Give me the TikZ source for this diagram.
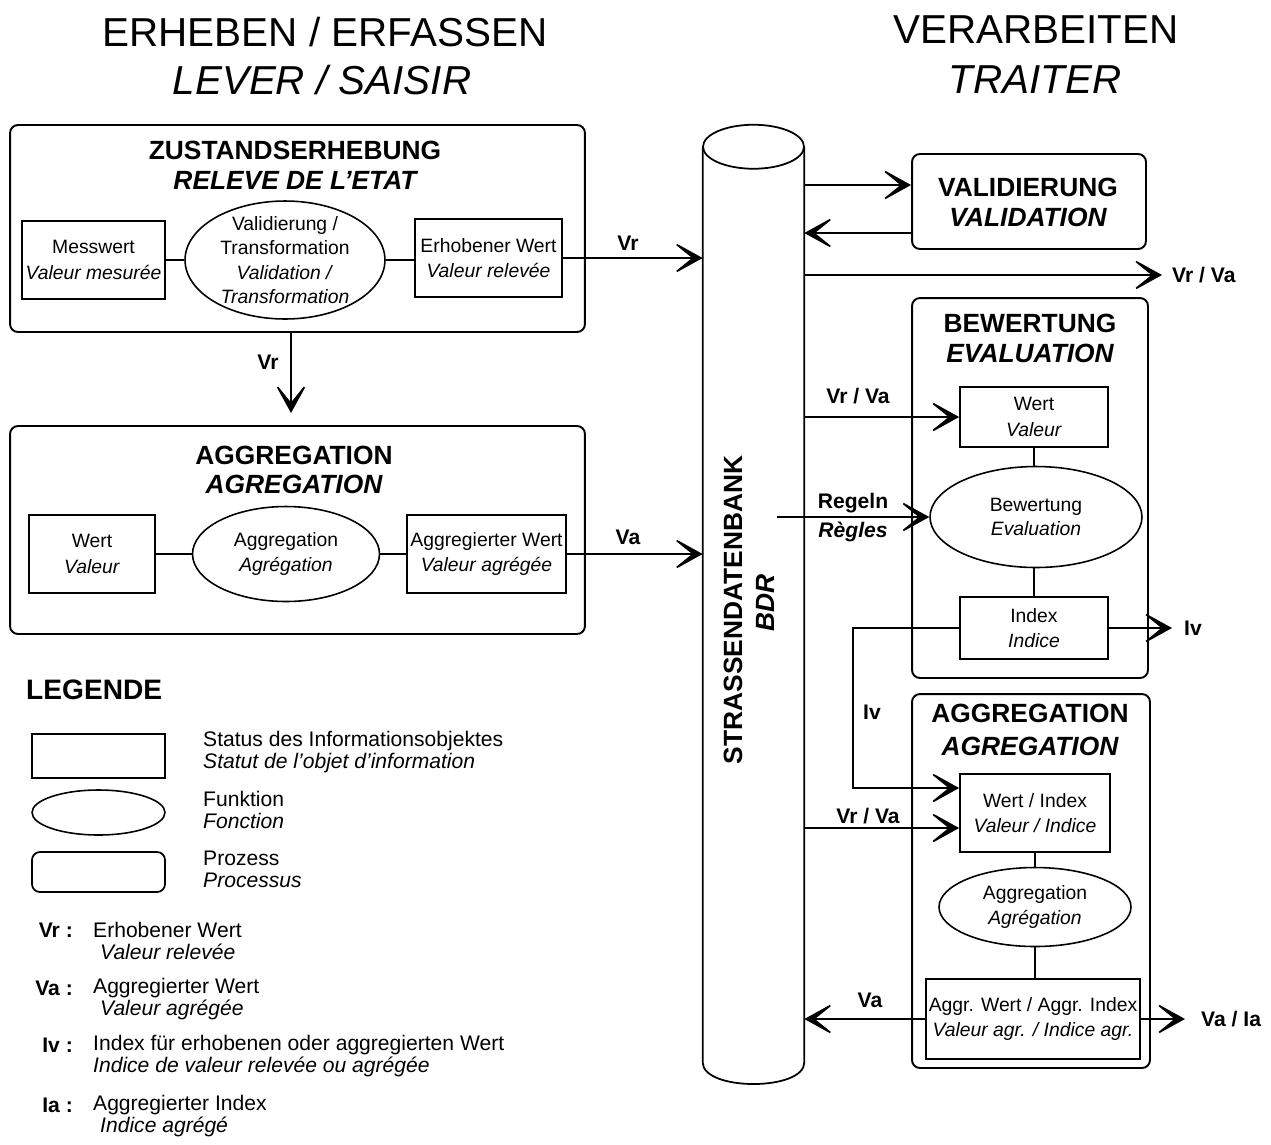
\documentclass[tikz,border=0pt]{standalone}
\usepackage{fontspec}
\setmainfont{Liberation Sans}
\usetikzlibrary{shapes.geometric,arrows.meta,calc}
\newcommand\myfs[2]{\fontsize{#1}{#2}\selectfont}
\begin{document}
\begin{tikzpicture}[x=0.02cm,y=-0.02cm,
  bigt/.style={font=\myfs{23}{27}},
  ptitle/.style={font=\myfs{15}{17}\bfseries},
  proc/.style={draw,rounded corners=4.5pt,line width=1.1pt},
  obj/.style={draw,line width=1pt,align=center,inner sep=0pt,font=\myfs{11}{14.5}},
  fun/.style={draw,ellipse,line width=0.9pt,inner sep=0pt},
  ftxt/.style={align=center,font=\myfs{11}{14}},
  lab/.style={font=\myfs{12}{14}\bfseries},
  leg/.style={anchor=west,align=left,font=\myfs{12}{12.5}},
  conn/.style={line width=0.9pt},
  arr/.style={line width=0.9pt,-{Stealth[length=19pt,width=21pt,inset=13pt]}},
]
\useasboundingbox (0,0) rectangle (1271,1144);

% headings
\node[bigt] (t1) at (325,32) {ERHEBEN / ERFASSEN};
\node[bigt] (t1b) at (322,80) {\itshape LEVER / SAISIR};
\node[bigt] (t2) at (1036,30) {VERARBEITEN};
\node[bigt] (t2b) at (1035,80) {\itshape TRAITER};

% process boxes
\node[proc,minimum width=11.5cm,minimum height=4.14cm] (p1) at (297.5,228.5) {};
\node[proc,minimum width=11.5cm,minimum height=4.16cm] (p2) at (297.5,530) {};
\node[proc,minimum width=4.68cm,minimum height=1.9cm] (pv) at (1029,201.5) {};
\node[proc,minimum width=4.72cm,minimum height=7.6cm] (pb) at (1030,488) {};
\node[proc,minimum width=4.76cm,minimum height=7.48cm] (pa) at (1031,881) {};

\node[ptitle] (p1t) at (295,150) {ZUSTANDSERHEBUNG};
\node[ptitle] (p1i) at (295,180) {\itshape RELEVE DE L'ETAT};
\node[ptitle] (p2t) at (294,455) {AGGREGATION};
\node[ptitle] (p2i) at (294,484) {\itshape AGREGATION};
\node[ptitle] (pvt) at (1028,187) {VALIDIERUNG};
\node[ptitle] (pvi) at (1028,217) {\itshape VALIDATION};
\node[ptitle] (pbt) at (1030,323) {BEWERTUNG};
\node[ptitle] (pbi) at (1030,353) {\itshape EVALUATION};
\node[ptitle] (pat) at (1030,713) {AGGREGATION};
\node[ptitle] (pai) at (1030,746) {\itshape AGREGATION};

% database cylinder
\node[minimum width=2.02cm,minimum height=18.3cm,inner sep=0pt] (db) at (753.5,604.5) {};
\draw[line width=1pt] (db.north west) -- (db.south west)
  .. controls ($(db.south west)+(0,29)$) and ($(db.south east)+(0,29)$) .. (db.south east)
  -- (db.north east);
\draw[line width=1pt] (db.north) ellipse [x radius=1.01cm, y radius=0.44cm];
\node[rotate=90,font=\myfs{15}{17}\bfseries] (dbt) at (733,610) {STRASSENDATENBANK};
\node[rotate=90,font=\myfs{15}{17}\bfseries\itshape] (dbi) at (765,603) {BDR};

% left objects
\node[obj,minimum width=2.86cm,minimum height=1.56cm] (mw) at (93.5,260) {Messwert\\\textit{Valeur mesurée}};
\node[fun,minimum width=4cm,minimum height=2.36cm,
  label={[ftxt]center:{Validierung /\\Transformation\\\textit{Validation /}\\\textit{Transformation}}}] (vt) at (285,260) {};
\node[obj,minimum width=2.94cm,minimum height=1.56cm] (ew) at (488.5,258) {Erhobener Wert\\\textit{Valeur relevée}};
\draw[conn] (mw.east) -- (vt.west);
\draw[conn] (vt.east) -- (ew.west |- vt.east);

\node[obj,minimum width=2.52cm,minimum height=1.56cm] (w1) at (92,554) {Wert\\\textit{Valeur}};
\node[fun,minimum width=3.74cm,minimum height=1.9cm,
  label={[ftxt]center:{Aggregation\\\textit{Agrégation}}}] (ag) at (286,554) {};
\node[obj,minimum width=3.18cm,minimum height=1.56cm] (aw) at (486.5,554) {Aggregierter Wert\\\textit{Valeur agrégée}};
\draw[conn] (w1.east) -- (ag.west);
\draw[conn] (ag.east) -- (aw.west);

% left arrows
\draw[arr] (ew.east) -- (db.west |- ew.east);
\node[lab] (lvr1) at (628,243) {Vr};
\coordinate (dv) at (291,413);
\draw[arr] (p1.south -| dv) -- (dv);
\node[lab] (lvr2) at (268,362) {Vr};
\draw[arr] (aw.east) -- (db.west |- aw.east);
\node[lab] (lva1) at (628,537) {Va};

% right objects
\node[obj,minimum width=2.96cm,minimum height=1.2cm] (wv) at (1034,417) {Wert\\\textit{Valeur}};
\node[fun,minimum width=4.24cm,minimum height=2.02cm,
  label={[ftxt]center:{Bewertung\\\textit{Evaluation}}}] (be) at (1036,517) {};
\node[obj,minimum width=2.96cm,minimum height=1.24cm] (ix) at (1034,628) {Index\\\textit{Indice}};
\draw[conn] (wv.south) -- (wv.south |- be.north);
\draw[conn] (ix.north |- be.south) -- (ix.north);

\node[obj,minimum width=3cm,minimum height=1.56cm] (wi) at (1035,813) {Wert / Index\\\textit{Valeur / Indice}};
\node[fun,minimum width=3.84cm,minimum height=1.58cm,
  label={[ftxt]center:{Aggregation\\\textit{Agrégation}}}] (ae) at (1035,907) {};
\node[obj,minimum width=4.28cm,minimum height=1.6cm] (ax) at (1033,1019) {Aggr. Wert / Aggr. Index\\\textit{Valeur agr. / Indice agr.}};
\draw[conn] (wi.south) -- (ae.north);
\draw[conn] (ae.south) -- (ax.north -| ae.south);

% right arrows
\coordinate (yv1) at (0,185);
\coordinate (yv2) at (0,233);
\draw[arr] (db.east |- yv1) -- (pv.west |- yv1);
\draw[arr] (pv.west |- yv2) -- (db.east |- yv2);
\coordinate (vro) at (1162,275);
\draw[arr] (db.east |- vro) -- (vro);
\node[lab,anchor=west] (lvr3) at (1166,275) {Vr / Va};

\draw[arr] (db.east |- wv.west) -- (wv.west);
\node[lab] (lvr4) at (858,396) {Vr / Va};

\coordinate (rg) at (777,517);
\draw[arr] (rg) -- (be.west);
\node[lab] (lrg1) at (853,503) {Regeln};
\node[lab] (lrg2) at (853,532) {\itshape Règles};

\coordinate (ivo) at (1172,628);
\draw[arr] (ix.east) -- (ivo);
\node[lab,anchor=west] (liv1) at (1178,628) {Iv};
\coordinate (ivc) at (853,788);
\draw[arr] (ix.west) -| (ivc) -- (wi.west |- ivc);
\node[lab,anchor=west] (liv2) at (857,712) {Iv};

\coordinate (yv3) at (0,828);
\draw[arr] (db.east |- yv3) -- (wi.west |- yv3);
\node[lab] (lvr5) at (868,816) {Vr / Va};

\draw[arr] (ax.west) -- (db.east |- ax.west);
\node[lab] (lva2) at (870,1000) {Va};
\coordinate (vao) at (1185,1019);
\draw[arr] (ax.east) -- (vao);
\node[lab,anchor=west] (lva3) at (1195,1019) {Va / Ia};

% legend
\node[anchor=west,font=\myfs{16}{18}\bfseries] (lgt) at (20,690) {LEGENDE};
\node[draw,line width=1pt,minimum width=2.66cm,minimum height=0.88cm] (lr1) at (98.5,756) {};
\node[fun,minimum width=2.66cm,minimum height=0.9cm] (lr2) at (98.5,812.5) {};
\node[proc,line width=1pt,minimum width=2.66cm,minimum height=0.8cm] (lr3) at (98.5,872) {};
\node[leg] (lg1) at (197,752) {Status des Informationsobjektes\\\textit{Statut de l'objet d'information}};
\node[leg] (lg2) at (197,810) {Funktion\\\textit{Fonction}};
\node[leg] (lg3) at (197,869) {Prozess\\\textit{Processus}};

\node[lab,anchor=east] (avr) at (79,930) {Vr :};
\node[leg] (dvr) at (87,941) {Erhobener Wert\\\hspace*{4pt}\textit{Valeur relevée}};
\node[lab,anchor=east] (ava) at (79,988) {Va :};
\node[leg] (dva) at (87,999) {Aggregierter Wert\\\hspace*{4pt}\textit{Valeur agrégée}};
\node[lab,anchor=east] (aiv) at (79,1045) {Iv :};
\node[leg] (div) at (87,1056) {Index für erhobenen oder aggregierten Wert\\\textit{Indice de valeur relevée ou agrégée}};
\node[lab,anchor=east] (aia) at (79,1105) {Ia :};
\node[leg] (dia) at (87,1116) {Aggregierter Index\\\hspace*{4pt}\textit{Indice agrégé}};
\end{tikzpicture}
\end{document}
